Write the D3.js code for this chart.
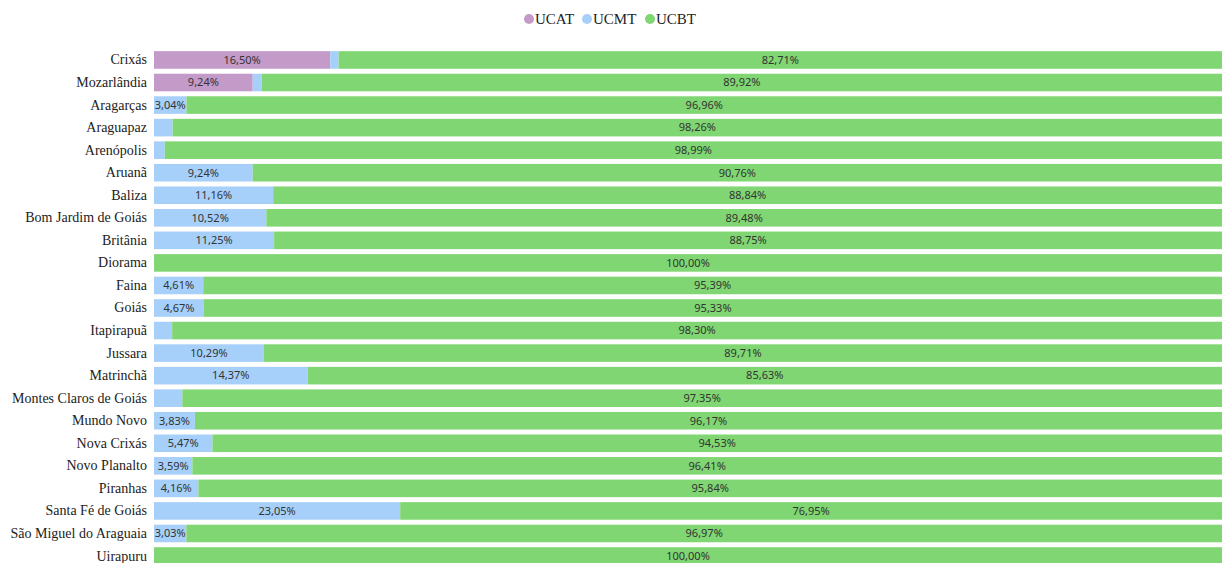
<!DOCTYPE html>
<html>
<head>
<meta charset="utf-8">
<script src="https://cdn.jsdelivr.net/npm/d3@7"></script>
<style>
  body { margin: 0; background: #fff; overflow: hidden; }
</style>
</head>
<body>
<div id="chart"><svg></svg></div>
<script>
// municipalities (top to bottom)
var categories = ["Crixás", "Mozarlândia", "Aragarças", "Araguapaz", "Arenópolis", "Aruanã",
    "Baliza", "Bom Jardim de Goiás", "Britânia", "Diorama", "Faina", "Goiás", "Itapirapuã",
    "Jussara", "Matrinchã", "Montes Claros de Goiás", "Mundo Novo", "Nova Crixás",
    "Novo Planalto", "Piranhas", "Santa Fé de Goiás", "São Miguel do Araguaia", "Uirapuru"];

var seriesNames = ["UCAT", "UCMT", "UCBT"];

// shares in percent
var ucat = [16.50, 9.24, 0, 0, 0, 0, 0, 0, 0, 0, 0, 0, 0, 0, 0, 0, 0, 0, 0, 0, 0, 0, 0];
var ucmt = [0.79, 0.84, 3.04, 1.74, 1.01, 9.24, 11.16, 10.52, 11.25, 0, 4.61, 4.67, 1.70,
    10.29, 14.37, 2.65, 3.83, 5.47, 3.59, 4.16, 23.05, 3.03, 0];
var ucbt = [82.71, 89.92, 96.96, 98.26, 98.99, 90.76, 88.84, 89.48, 88.75, 100.00, 95.39,
    95.33, 98.30, 89.71, 85.63, 97.35, 96.17, 94.53, 96.41, 95.84, 76.95, 96.97, 100.00];

var colors = ["#c49ac9", "#a6d0f9", "#80d672"];

var data = categories.map(function (c, i) {
    return {name: c, UCAT: ucat[i], UCMT: ucmt[i], UCBT: ucbt[i]};
});

// set the dimensions and margins of the graph
var margin = {top: 48.7, right: 0, bottom: 0, left: 154},
    width = 1222 - margin.left - margin.right,
    height = 518.6;

var x = d3.scaleLinear().domain([0, 100]).range([0, width]);
var y = d3.scaleBand().domain(categories).range([0, height])
    .paddingInner(0.22).paddingOuter(0.11);
var color = d3.scaleOrdinal().domain(seriesNames).range(colors);

var stacked = d3.stack().keys(seriesNames)(data);

var svgRoot = d3.select("#chart").select("svg")
    .attr("width", 1222)
    .attr("height", 563);

var svg = svgRoot.append("g")
    .attr("transform", "translate(" + margin.left + "," + margin.top + ")");

var fmt = function (v) { return v.toFixed(2).replace(".", ",") + "%"; };

// bars
var layers = svg.selectAll(".layer")
    .data(stacked)
    .enter().append("g")
    .attr("class", "layer")
    .attr("fill", function (d) { return color(d.key); });

layers.selectAll("rect")
    .data(function (d) { return d; })
    .enter().append("rect")
    .attr("x", function (d) { return x(d[0]); })
    .attr("y", function (d) { return y(d.data.name); })
    .attr("width", function (d) { return x(d[1]) - x(d[0]); })
    .attr("height", y.bandwidth());

// value labels (only segments wide enough)
layers.selectAll("text")
    .data(function (d) {
        return d.filter(function (p) { return p[1] - p[0] >= 3; });
    })
    .enter().append("text")
    .attr("x", function (d) { return x((d[0] + d[1]) / 2); })
    .attr("y", function (d) { return y(d.data.name) + y.bandwidth() / 2; })
    .attr("dy", "0.35em")
    .attr("text-anchor", "middle")
    .style("font-family", "'Noto Sans', 'DejaVu Sans', sans-serif")
    .style("font-size", "11px")
    .attr("fill", "#333")
    .text(function (d) { return fmt(d[1] - d[0]); });

// y axis labels
var yAxis = svg.append("g")
    .call(d3.axisLeft(y).tickSize(0).tickPadding(7));
yAxis.attr("font-family", "'Liberation Serif', 'Times New Roman', serif");
yAxis.select(".domain").remove();
yAxis.selectAll("text")
    .style("font-family", "'Liberation Serif', 'Times New Roman', serif")
    .style("font-size", "14px")
    .attr("fill", "#222");

// legend
var legend = svgRoot.append("g")
    .attr("transform", "translate(524,19)");
var legendX = [0, 58, 121];
var items = legend.selectAll("g")
    .data(seriesNames)
    .enter().append("g")
    .attr("transform", function (d, i) { return "translate(" + legendX[i] + ",0)"; });
items.append("circle")
    .attr("cx", 5)
    .attr("cy", 0)
    .attr("r", 5)
    .attr("fill", function (d) { return color(d); });
items.append("text")
    .attr("x", 11)
    .attr("dy", "0.35em")
    .style("font-family", "'Liberation Serif', 'Times New Roman', serif")
    .style("font-size", "15px")
    .attr("fill", "#222")
    .text(function (d) { return d; });
</script>
</body>
</html>
